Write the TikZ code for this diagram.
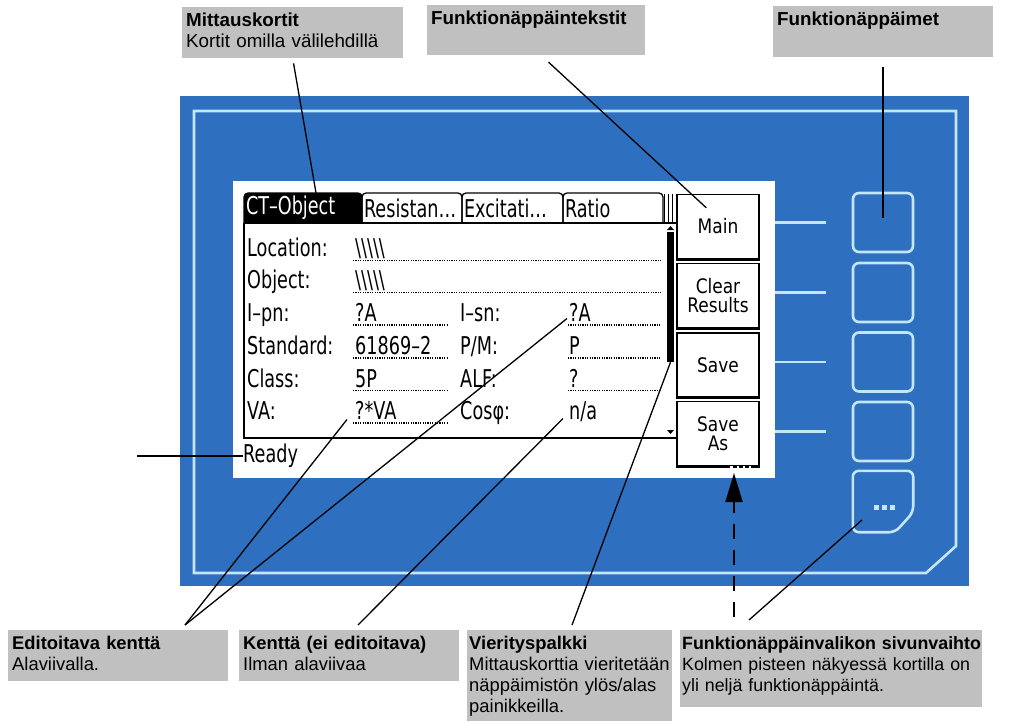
\documentclass[tikz,border=0pt]{standalone}
\usepackage{fontspec}
\setmainfont{Liberation Sans}
\newfontfamily\lcdfont[FakeStretch=0.72]{DejaVu Sans}
\newfontfamily\keyfont[FakeStretch=0.85]{DejaVu Sans}
\usetikzlibrary{arrows.meta}
\definecolor{panelblue}{RGB}{46,111,191}
\definecolor{keyblue}{RGB}{196,230,250}
\definecolor{calloutgray}{RGB}{192,192,192}
\newcommand{\lcdsize}{\fontsize{24.5}{24.5}\selectfont}
\newcommand{\bsl}{\textbackslash\textbackslash\textbackslash\textbackslash\textbackslash}

\begin{document}
\begin{tikzpicture}[x=1pt,y=-1pt]
\tikzstyle{callout}=[fill=calloutgray, anchor=north west, inner xsep=4pt, inner ysep=6pt, text height=13.5pt, align=left, font=\fontsize{18.8}{21}\selectfont]
\tikzstyle{lowcallout}=[callout, font=\fontsize{18.4}{21}\selectfont]
\tikzstyle{leader}=[draw=black, line width=1.3pt]
\tikzstyle{hwkey}=[draw=keyblue, line width=2.6pt, rounded corners=6pt, minimum width=60pt, minimum height=59pt, inner sep=0pt]
\tikzstyle{keyline}=[draw=keyblue, line width=2.6pt]
\tikzstyle{softkey}=[draw=black, line width=1.3pt, fill=white, minimum width=82pt, minimum height=64pt, inner sep=0pt, align=center, font=\keyfont\fontsize{20}{19}\selectfont]
\tikzstyle{tab}=[inner xsep=2pt, inner ysep=0pt, minimum height=30pt, align=left, font=\lcdfont\lcdsize]
\tikzstyle{lcdtext}=[anchor=base west, inner sep=0pt, font=\lcdfont\lcdsize]
\tikzstyle{field}=[draw=black, line width=1.2pt, dash pattern=on 1.2pt off 1.2pt]

\useasboundingbox (0,0) rectangle (1026,721);

\fill[panelblue] (180,96) rectangle (969,586);
\draw[keyblue, line width=2.6pt] (194,111) -- (956,111) -- (956,546) -- (926,573) -- (194,573) -- cycle;
\node (lcd) at (504,329.5) [fill=white, minimum width=542pt, minimum height=297pt, inner sep=0pt] {};

\node (key1) at (883,222.5) [hwkey] {};
\node (key2) at (883,292.5) [hwkey] {};
\node (key3) at (883,362) [hwkey] {};
\node (key4) at (883,431.5) [hwkey] {};
\node (key5) at (883,501.5) [minimum width=60pt, minimum height=61pt, inner sep=0pt] {};
\draw[keyline, rounded corners=6pt] (key5.south west) -- (key5.north west) -- (key5.north east) -- ([yshift=20pt]key5.south east) -- ([xshift=-18pt]key5.south east) -- cycle;
\foreach \i in {1,...,4}
  \draw[keyline, shorten >=26pt] (key\i.west -| lcd.east) -- (key\i.west);
\foreach \x in {876,884,892}
  \fill[keyblue] (\x-2.5,504.5) rectangle (\x+2.5,509.5);

\foreach \a/\b in {244/362, 362/462, 462/563, 563/663}
  \draw[line width=1.3pt, rounded corners=4pt] (\a,223) -- (\a,193) -- (\b,193) -- (\b,223);
\fill[rounded corners=4pt] (244,223) -- (244,193) -- (362,193) -- (362,223);
\foreach \x in {664,668,672}
  \draw[line width=1pt] (\x,223) -- (\x,194);
\node (tab1) at (303,208) [tab, text width=114pt, text=white] {CT–Object};
\node (tab2) at (412,208) [tab, text width=96pt] {Resistan…};
\node (tab3) at (512.5,208) [tab, text width=97pt] {Excitati…};
\node (tab4) at (613,208) [tab, text width=96pt] {Ratio};

\draw[line width=1.3pt] (244,223) -- (676,223);
\draw[line width=2pt] (244,223) -- (244,438) -- (677,438);
\node (thumb) at (670.5,297) [fill=black, minimum width=7pt, minimum height=130pt, inner sep=0pt] {};
\fill (667,230) -- (674,230) -- (670.5,226) -- cycle;
\fill (667,430) -- (674,430) -- (670.5,434) -- cycle;

\node (lLoc) at (247,256) [lcdtext] {Location:};
\node (vLoc) at (355,256) [lcdtext] {\bsl};
\node (lObj) at (247,288.5) [lcdtext] {Object:};
\node (vObj) at (355,288.5) [lcdtext] {\bsl};
\node (lIpn) at (247,321.5) [lcdtext] {I–pn:};
\node (vIpn) at (355,321.5) [lcdtext] {?A};
\node (lIsn) at (460,321.5) [lcdtext] {I–sn:};
\node (vIsn) at (569,321.5) [lcdtext] {?A};
\node (lStd) at (247,354) [lcdtext] {Standard:};
\node (vStd) at (355,354) [lcdtext] {61869–2};
\node (lPM) at (460,354) [lcdtext] {P/M:};
\node (vPM) at (569,354) [lcdtext] {P};
\node (lCls) at (247,387) [lcdtext] {Class:};
\node (vCls) at (355,387) [lcdtext] {5P};
\node (lALF) at (460,387) [lcdtext] {ALF:};
\node (vALF) at (569,387) [lcdtext] {?};
\node (lVA) at (247,419.5) [lcdtext] {VA:};
\node (vVA) at (355,419.5) [lcdtext] {?*VA};
\node (lCos) at (460,419.5) [lcdtext] {Cosφ:};
\node (vCos) at (569,419.5) [lcdtext] {n/a};
\node (ready) at (243,456) [anchor=west, inner sep=0pt, font=\lcdfont\lcdsize] {Ready};

\draw[field] (353,260.5) -- (661,260.5);
\draw[field] (353,292.5) -- (661,292.5);
\draw[field] (353,325) -- (447,325);
\draw[field] (568,325) -- (661,325);
\draw[field] (353,358) -- (447,358);
\draw[field] (568,358) -- (661,358);
\draw[field] (353,390.5) -- (447,390.5);
\draw[field] (568,390.5) -- (661,390.5);
\draw[field] (353,423) -- (447,423);

\node (sk1) at (718,226.5) [softkey] {Main};
\node (sk2) at (718,295.5) [softkey] {Clear\\Results};
\node (sk3) at (718,365) [softkey] {Save};
\node (sk4) at (718,433.5) [softkey] {Save\\As};
\foreach \i in {1,2,3}
  \draw[line width=3pt] (sk\i.south west) -- (sk\i.south east);
\draw[line width=3pt] (sk4.south west) -- ([xshift=-30pt]sk4.south east);
\draw[line width=3pt] ([xshift=-9pt]sk4.south east) -- (sk4.south east);
\foreach \x in {735,741,747}
  \fill (\x-1.6,464.5) rectangle (\x+1.6,467.7);
\coordinate (skdots) at (741,466);

\node (mittaus) at (182,7) [callout, text width=213pt, text depth=25.5pt] {\textbf{Mittauskortit}\\Kortit omilla välilehdillä};
\node (ftekstit) at (427,5) [callout, text width=210pt, text depth=24.5pt] {\textbf{Funktionäppäintekstit}};
\node (fnappaimet) at (773,6) [callout, text width=212pt, text depth=25.5pt] {\textbf{Funktionäppäimet}};
\node (editoitava) at (8,630) [lowcallout, text width=212pt, text depth=25.5pt] {\textbf{Editoitava kenttä}\\Alaviivalla.};
\node (kentta) at (239,630) [lowcallout, text width=212pt, text depth=25.5pt] {\textbf{Kenttä (ei editoitava)}\\Ilman alaviivaa};
\node (vieritys) at (467,630) [lowcallout, inner xsep=2pt, text width=201pt, text depth=65.5pt] {\textbf{Vierityspalkki}\\\mbox{Mittauskorttia vieritetään}\\näppäimistön ylös/alas\\painikkeilla.};
\node (fvalikko) at (680,630) [callout, font=\fontsize{17.8}{21}\selectfont, inner xsep=2pt, text width=298pt, text depth=51.5pt] {\mbox{\textbf{Funktionäppäinvalikon sivunvaihto}}\\Kolmen pisteen näkyessä kortilla on\\yli neljä funktionäppäintä.};

\coordinate (readytail) at (137,456);
\coordinate (editfoot) at (185,625);
\coordinate (kentfoot) at (358,625);
\coordinate (vierfoot) at (572,625);
\coordinate (pgfoot) at (734,617);
\coordinate (keyfoot) at (749,620);

\draw[leader, shorten <=5pt] (mittaus.south) -- ([xshift=13pt]tab1.north);
\draw[leader, shorten <=10pt] ([xshift=5pt]ftekstit.south) -- ([shift={(30pt,-14pt)}]sk1.north west);
\draw[leader, shorten <=10pt] (fnappaimet.south -| key1.center) -- ([yshift=5pt]key1.center);
\draw[leader] (readytail) -- (ready.west);
\draw[leader] (editfoot) -- ([xshift=-8pt]vVA.base west);
\draw[leader] (editfoot) -- ([shift={(-2pt,3pt)}]vIsn.base west);
\draw[leader] (kentfoot) -- ([shift={(-6pt,1pt)}]vCos.base west);
\draw[leader] (vierfoot) -- (thumb.south);
\draw[line width=2pt, dash pattern=on 15pt off 11pt, shorten >=7pt, -{Triangle[length=29pt,width=17pt]}] (pgfoot) -- (pgfoot |- skdots);
\draw[leader] (keyfoot) -- ([shift={(-21pt,-18.5pt)}]key5.center);
\end{tikzpicture}
\end{document}
